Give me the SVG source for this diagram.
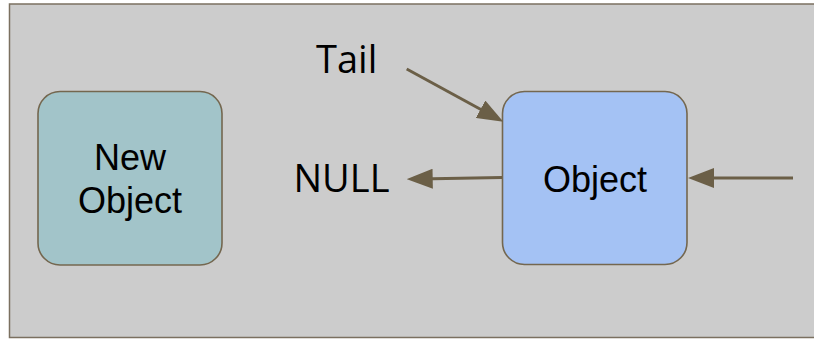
<svg xmlns="http://www.w3.org/2000/svg" width="814" height="339" viewBox="0 0 814 339">
<style>
.box{stroke:#74674f;stroke-width:1.6}
.lbl{font-family:"Liberation Sans",Arial,sans-serif;font-size:36px;fill:#000;text-anchor:middle}
.free{font-family:"Open Sans","Noto Sans",sans-serif;font-size:38px;fill:#000}
.conn{stroke:#6b5f47;stroke-width:3;fill:none;marker-end:url(#ah)}
</style>
<defs>
<marker id="ah" markerUnits="userSpaceOnUse" markerWidth="26" markerHeight="20" viewBox="0 0 26 20" refX="14" refY="10" orient="auto">
<path d="M0,0 L26,10 L0,20 Z" fill="#6b5f47"/>
</marker>
</defs>
<rect id="frame" x="9.5" y="4" width="810" height="333.5" fill="#cccccc" stroke="#7b7060" stroke-width="1.5"/>
<g id="new-object">
<rect class="box" x="38" y="91.5" width="184" height="173.5" rx="22" fill="#a2c4c9"/>
<text class="lbl" x="130" y="170">New</text>
<text class="lbl" x="130" y="213">Object</text>
</g>
<g id="object">
<rect class="box" x="502.5" y="91.5" width="184.5" height="173" rx="22" fill="#a4c2f4"/>
<text class="lbl" x="595" y="192">Object</text>
</g>
<g id="tail-label"><text class="free" x="316" y="73">Tail</text></g>
<g id="null-label"><text class="free" x="293.5" y="192">NULL</text></g>
<g id="connectors">
<line class="conn" x1="406.7" y1="69" x2="492.8" y2="116"/>
<line class="conn" x1="502" y1="177.5" x2="418.7" y2="179"/>
<line class="conn" x1="793" y1="178" x2="700" y2="178"/>
</g>
</svg>
